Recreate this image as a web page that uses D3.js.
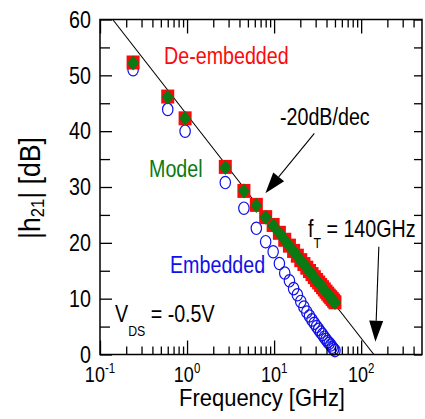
<!DOCTYPE html>
<html>
<head>
<meta charset="utf-8">
<script src="https://cdn.jsdelivr.net/npm/d3@7"></script>
<style>
  html, body { margin: 0; padding: 0; background: #fff; }
  svg { display: block; }
  text { font-family: "Liberation Sans", Arial, Helvetica, sans-serif; }
</style>
</head>
<body>
<svg id="chart" width="425" height="419"></svg>
<script>
// Measured frequency points (GHz)
const freqGHz = [0.24, 0.6, 0.95, 2.75, 4.5, 6.25, 8, 9.75, 11.5, 13.25, 15, 16.75, 18.5,
  20.25, 22, 23.75, 25.5, 27.25, 29, 30.75, 32.5, 34.25, 36, 37.75, 39.5, 41.25, 43,
  44.75, 46.5, 48.25, 50];

// |h21| in dB for each curve
const deembeddedDb = [52.3, 46.2, 42.3, 33.6, 29.3, 26.8, 24.6, 23.2, 21.8, 20.55, 19.5,
  18.55, 17.7, 16.9, 16.2, 15.55, 14.95, 14.4, 13.85, 13.35, 12.9, 12.45, 12.05, 11.65,
  11.25, 10.9, 10.55, 10.25, 9.95, 9.65, 9.35];
const modelDb = [52.2, 46.1, 42.3, 33.5, 29.3, 26.7, 24.6, 23.1, 21.75, 20.5, 19.45,
  18.5, 17.65, 16.85, 16.15, 15.5, 14.9, 14.35, 13.8, 13.3, 12.85, 12.4, 12.0, 11.6,
  11.2, 10.85, 10.5, 10.2, 9.9, 9.6, 9.3];
const embeddedDb = [51.0, 43.9, 40.0, 30.8, 26.2, 22.6, 20.2, 18.4, 16.3, 14.6, 13.2,
  11.8, 10.7, 9.5, 8.5, 7.6, 6.9, 6.2, 5.6, 5.0, 4.5, 4.0, 3.6, 3.1, 2.7, 2.3, 2.0,
  1.7, 1.3, 1.0, 0.7];

// Unity-gain frequency and the -20 dB/decade roll-off through it
const fT = 140;
const slopeDbPerDec = -20;

// Axis ticks
const xMajorTicks = [0.1, 1, 10, 100];
const xMajorExponents = ["-1", "0", "1", "2"];
const yLabelTicks = [0, 10, 20, 30, 40, 50, 60];

const svg = d3.select("#chart");
const x = d3.scaleLog().domain([0.1, 500]).range([100, 422]);
const y = d3.scaleLinear().domain([0, 60]).range([354.5, 19.5]);

// narrow-looking text: regular face squeezed horizontally around its anchor
const NARROW = 0.82;
function label(px, py, size, color, squeeze, anchor) {
  return svg.append("text")
    .attr("transform", `translate(${px},${py}) scale(${squeeze},1)`)
    .attr("font-size", size).attr("fill", color)
    .attr("text-anchor", anchor || "start");
}

// minor log ticks (2..9 of every decade inside the domain)
const xMinorTicks = [];
[0.1, 1, 10, 100].forEach(d => { for (let k = 2; k <= 9; k++) { const v = d * k; if (v < 500) xMinorTicks.push(v); } });
const yMinorTicks = d3.range(5, 60, 10);
const yAllTicks = d3.range(0, 61, 5);

// -20 dB/dec guide line, clipped to the plotted dB range
const fTop = fT * Math.pow(10, 60 / slopeDbPerDec);
const guide = [[fTop, 60], [fT, 0]];
svg.append("path")
  .attr("d", d3.line().x(d => x(d[0])).y(d => y(d[1]))(guide))
  .attr("stroke", "#000").attr("stroke-width", 1.1).attr("fill", "none");

// Embedded: open blue circles
svg.append("g").selectAll("ellipse").data(freqGHz).join("ellipse")
  .attr("cx", (d) => x(d)).attr("cy", (d, i) => y(embeddedDb[i]))
  .attr("rx", 5.2).attr("ry", 6.2)
  .attr("fill", "none").attr("stroke", "#1010e8").attr("stroke-width", 1.2);

// De-embedded: red squares
svg.append("g").selectAll("rect").data(freqGHz).join("rect")
  .attr("x", d => x(d) - 6.5).attr("y", (d, i) => y(deembeddedDb[i]) - 7)
  .attr("width", 13).attr("height", 14)
  .attr("fill", "#fa0a0a");

// Model: green diamonds
svg.append("g").selectAll("path").data(freqGHz).join("path")
  .attr("transform", (d, i) => `translate(${x(d)},${y(modelDb[i])})`)
  .attr("d", "M0,-7.5L6,0L0,7.5L-6,0Z")
  .attr("fill", "#0a7a14");

// Frame
svg.append("rect").attr("x", 100).attr("y", 19.5).attr("width", 322).attr("height", 335)
  .attr("fill", "none").attr("stroke", "#000").attr("stroke-width", 1.5);

function tickAxis(axis, transform) {
  const g = svg.append("g").attr("transform", transform).call(axis);
  g.select(".domain").remove();
  g.selectAll("text").remove();
  g.selectAll("line").attr("stroke", "#000").attr("stroke-width", 1.3);
  return g;
}
// bottom & top
tickAxis(d3.axisBottom(x).tickValues(xMajorTicks).tickSizeInner(-14).tickSizeOuter(0), `translate(0,${y(0)})`);
tickAxis(d3.axisBottom(x).tickValues(xMinorTicks).tickSizeInner(-8).tickSizeOuter(0), `translate(0,${y(0)})`);
tickAxis(d3.axisTop(x).tickValues(xMajorTicks).tickSizeInner(-14).tickSizeOuter(0), `translate(0,${y(60)})`);
tickAxis(d3.axisTop(x).tickValues(xMinorTicks).tickSizeInner(-8).tickSizeOuter(0), `translate(0,${y(60)})`);
// left & right
tickAxis(d3.axisLeft(y).tickValues(yLabelTicks).tickSizeInner(-12).tickSizeOuter(0), `translate(${x(0.1)},0)`);
tickAxis(d3.axisLeft(y).tickValues(yMinorTicks).tickSizeInner(-10).tickSizeOuter(0), `translate(${x(0.1)},0)`);
tickAxis(d3.axisRight(y).tickValues(yAllTicks).tickSizeInner(-8).tickSizeOuter(0), `translate(${x(500)},0)`);

// Y tick labels
yLabelTicks.forEach(v => {
  label(91, y(v), 24, "#000", NARROW, "end").attr("dy", "0.34em").text(v);
});

// X tick labels: 10^n
xMajorTicks.forEach((v, i) => {
  const t = label(x(v), 382, 22, "#000", NARROW, "middle");
  t.append("tspan").text("10");
  t.append("tspan").attr("font-size", 14).attr("dy", -9).text(xMajorExponents[i]);
});

// Axis titles
label(262, 406, 24, "#000", 0.915, "middle").text("Frequency [GHz]");

const yt = svg.append("text").attr("transform", "translate(40,188) rotate(-90) scale(0.92,1)")
  .attr("text-anchor", "middle").attr("font-size", 29).attr("fill", "#000");
yt.append("tspan").text("|h");
yt.append("tspan").attr("font-size", 18).attr("dy", 4).text("21");
yt.append("tspan").attr("dy", -4).text("| [dB]");

// Curve labels
label(164, 64, 24, "#fa0a0a", NARROW).text("De-embedded");
label(149, 177, 24, "#0a7a14", NARROW).text("Model");
label(170, 273, 24, "#1010e8", NARROW).text("Embedded");
label(280, 125, 24, "#000", NARROW).text("-20dB/dec");

const vds = label(115, 322, 24, "#000", NARROW);
vds.append("tspan").text("V");
vds.append("tspan").attr("font-size", 15).attr("dy", 14).text("DS");
vds.append("tspan").attr("dy", -14).text(" = -0.5V");

const ft = label(308, 237, 24, "#000", NARROW);
ft.append("tspan").text("f");
ft.append("tspan").attr("font-size", 15).attr("dy", 11).text("T");
ft.append("tspan").attr("dy", -11).text(" = 140GHz");

// Arrows, anchored in data coordinates
function arrow(from, to) {
  const x0 = x(from[0]), y0 = y(from[1]), x1 = x(to[0]), y1 = y(to[1]);
  const dx = x1 - x0, dy = y1 - y0, L = Math.hypot(dx, dy);
  const ux = dx / L, uy = dy / L, headLen = 21, headHalf = 7;
  const bx = x1 - ux * headLen, by = y1 - uy * headLen;
  svg.append("line").attr("x1", x0).attr("y1", y0).attr("x2", bx).attr("y2", by)
    .attr("stroke", "#000").attr("stroke-width", 1.1);
  svg.append("path")
    .attr("d", `M${x1},${y1}L${bx - uy * headHalf},${by + ux * headHalf}L${bx + uy * headHalf},${by - ux * headHalf}Z`)
    .attr("fill", "#000");
}
arrow([29.0, 39.6], [7.94, 28.9]);
arrow([159.6, 19.3], [145.9, 2.3]);
</script>
</body>
</html>
